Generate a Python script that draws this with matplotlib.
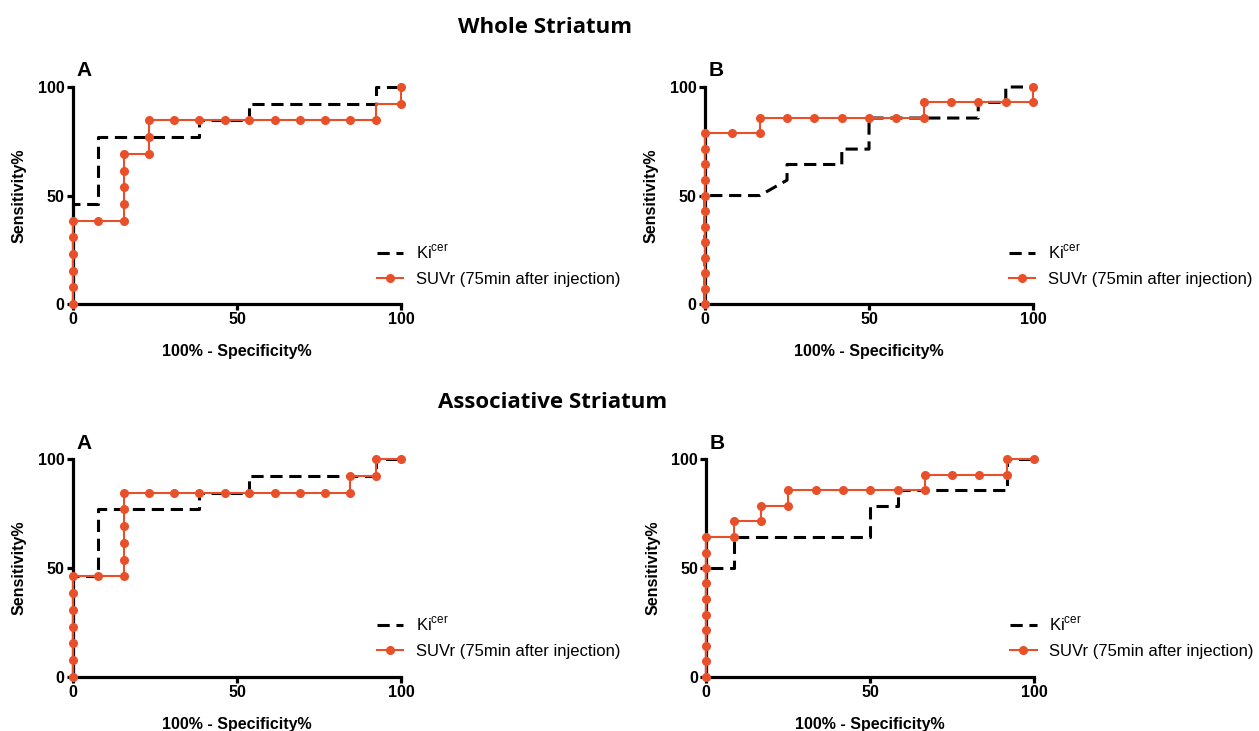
import matplotlib
matplotlib.use("Agg")
import matplotlib.pyplot as plt
from matplotlib.lines import Line2D

plt.rcParams['font.family'] = ['Liberation Sans', 'DejaVu Sans']

ORANGE = '#E8502A'

# ---- Whole Striatum A ----
wa_ki_x = [0, 0, 7.7, 7.7, 38.5, 38.5, 53.8, 53.8, 92.3, 92.3, 100]
wa_ki_y = [0, 46.2, 46.2, 76.9, 76.9, 84.6, 84.6, 92.3, 92.3, 100, 100]
wa_suv_x = [0, 0, 0, 0, 0, 0, 7.7, 15.4, 15.4, 15.4, 15.4, 15.4, 23.1, 23.1, 23.1,
            30.8, 38.5, 46.2, 53.8, 61.5, 69.2, 76.9, 84.6, 92.3, 92.3, 100, 100]
wa_suv_y = [0, 7.7, 15.4, 23.1, 30.8, 38.5, 38.5, 38.5, 46.2, 53.8, 61.5, 69.2, 69.2, 76.9, 84.6,
            84.6, 84.6, 84.6, 84.6, 84.6, 84.6, 84.6, 84.6, 84.6, 92.3, 92.3, 100]
wa_suv_mark = [True] * 24 + [False, True, True]

# ---- Whole Striatum B ----
wb_ki_x = [0, 0, 16.7, 25, 25, 41.7, 41.7, 50, 50, 83.3, 83.3, 91.7, 91.7, 100]
wb_ki_y = [0, 50, 50, 57.1, 64.3, 64.3, 71.4, 71.4, 85.7, 85.7, 92.9, 92.9, 100, 100]
wb_suv_x = [0] * 12 + [8.3, 16.7, 16.7, 25, 33.3, 41.7, 50, 58.3, 66.7, 66.7, 75, 83.3, 91.7, 100, 100]
wb_suv_y = [0, 7.1, 14.3, 21.4, 28.6, 35.7, 42.9, 50, 57.1, 64.3, 71.4, 78.6,
            78.6, 78.6, 85.7, 85.7, 85.7, 85.7, 85.7, 85.7, 85.7, 92.9, 92.9, 92.9, 92.9, 92.9, 100]
wb_suv_mark = [True] * len(wb_suv_x)

# ---- Associative Striatum A ----
aa_ki_x = [0, 0, 7.7, 7.7, 38.5, 38.5, 53.8, 53.8, 92.3, 92.3, 100]
aa_ki_y = [0, 46.2, 46.2, 76.9, 76.9, 84.6, 84.6, 92.3, 92.3, 100, 100]
aa_suv_x = [0] * 7 + [7.7, 15.4, 15.4, 15.4, 15.4, 15.4, 15.4, 23.1, 30.8, 38.5, 46.2, 53.8,
                      61.5, 69.2, 76.9, 84.6, 84.6, 92.3, 92.3, 100]
aa_suv_y = [0, 7.7, 15.4, 23.1, 30.8, 38.5, 46.2, 46.2, 46.2, 53.8, 61.5, 69.2, 76.9, 84.6,
            84.6, 84.6, 84.6, 84.6, 84.6, 84.6, 84.6, 84.6, 84.6, 92.3, 92.3, 100, 100]
aa_suv_mark = [True] * len(aa_suv_x)

# ---- Associative Striatum B ----
ab_ki_x = [0, 0, 8.3, 8.3, 50, 50, 58.3, 58.3, 91.7, 91.7, 100]
ab_ki_y = [0, 50, 50, 64.3, 64.3, 78.6, 78.6, 85.7, 85.7, 100, 100]
ab_suv_x = [0] * 10 + [8.3, 8.3, 16.7, 16.7, 25, 25, 33.3, 41.7, 50, 58.3, 66.7, 66.7,
                       75, 83.3, 91.7, 91.7, 100]
ab_suv_y = [0, 7.1, 14.3, 21.4, 28.6, 35.7, 42.9, 50, 57.1, 64.3,
            64.3, 71.4, 71.4, 78.6, 78.6, 85.7, 85.7, 85.7, 85.7, 85.7, 85.7, 92.9,
            92.9, 92.9, 92.9, 100, 100]
ab_suv_mark = [True] * len(ab_suv_x)

panel_labels = ['A', 'B', 'A', 'B']
titles = ['Whole Striatum', 'Associative Striatum']
ticks = [0, 50, 100]
legend_labels = ['Ki$^{\\mathregular{cer}}$', 'SUVr (75min after injection)']

fig = plt.figure(figsize=(12.59, 7.31), dpi=100)

W = 0.2605
positions = [
    (0.058, 0.584, W, 0.297),
    (0.560, 0.584, W, 0.297),
    (0.058, 0.074, W, 0.298),
    (0.561, 0.074, W, 0.298),
]
data = [
    (wa_ki_x, wa_ki_y, wa_suv_x, wa_suv_y, wa_suv_mark),
    (wb_ki_x, wb_ki_y, wb_suv_x, wb_suv_y, wb_suv_mark),
    (aa_ki_x, aa_ki_y, aa_suv_x, aa_suv_y, aa_suv_mark),
    (ab_ki_x, ab_ki_y, ab_suv_x, ab_suv_y, ab_suv_mark),
]
DASH = (0, (4, 2.2))

for i, (pos, (kx, ky, sx, sy, sm)) in enumerate(zip(positions, data)):
    ax = fig.add_axes(pos)
    ax.plot(kx, ky, color='black', lw=2.2, ls=DASH, clip_on=False, zorder=3)
    ax.plot(sx, sy, color=ORANGE, lw=1.5, marker='o', ms=5.5, mec=ORANGE, mfc=ORANGE,
            markevery=sm, clip_on=False, zorder=4)
    ax.set_xlim(0, 100)
    ax.set_ylim(0, 100)
    for s in ['top', 'right']:
        ax.spines[s].set_visible(False)
    for s in ['left', 'bottom']:
        ax.spines[s].set_linewidth(2.3)
        ax.spines[s].set_zorder(2)
    ax.set_xticks(ticks)
    ax.set_yticks(ticks)
    ax.tick_params(width=2.3, length=4, labelsize=11.5, pad=2)
    for lab in ax.get_xticklabels() + ax.get_yticklabels():
        lab.set_fontweight('bold')
    ax.set_xlabel('100% - Specificity%', fontsize=11.5, fontweight='bold', labelpad=12)
    ax.set_ylabel('Sensitivity%', fontsize=11.5, fontweight='bold', labelpad=8)
    ax.text(0.01, 1.03, panel_labels[i], transform=ax.transAxes, fontsize=15,
            fontweight='bold', va='bottom', ha='left')
    handles = [
        Line2D([], [], color='black', lw=2.2, ls=DASH),
        Line2D([], [], color=ORANGE, lw=1.5, marker='o', ms=5.5),
    ]
    ax.legend(handles, legend_labels, loc='center left', bbox_to_anchor=(0.88, 0.18),
              frameon=False, fontsize=12, handlelength=1.6, labelspacing=0.6,
              handletextpad=0.75)

fig.text(0.433, 0.963, titles[0], fontsize=16, fontweight='bold', family='Open Sans',
         ha='center', va='center')
fig.text(0.439, 0.449, titles[1], fontsize=16, fontweight='bold', family='Open Sans',
         ha='center', va='center')

fig.savefig('out.png', dpi=100)
